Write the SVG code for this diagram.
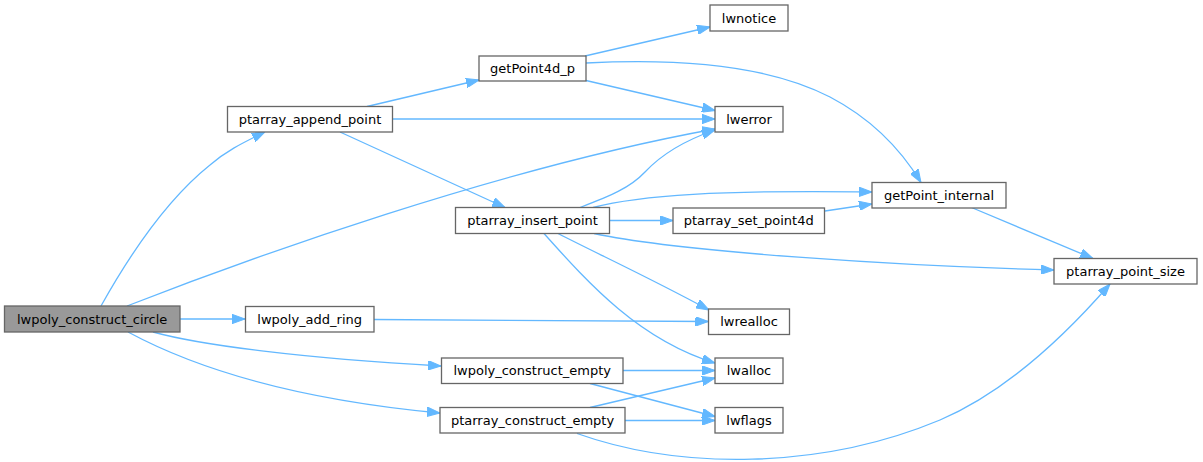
<svg xmlns="http://www.w3.org/2000/svg" width="1203" height="462" viewBox="0 0 1203 462">
<style>
.node rect{fill:#ffffff;stroke:#666666;stroke-width:1.3}
.node.root rect{fill:#999999}
.node text{font-family:"DejaVu Sans","Liberation Sans",sans-serif;font-size:13px;fill:#000000;text-anchor:middle}
.edges path{fill:none;stroke:#63b8ff;stroke-width:1.3;marker-end:url(#arr)}
</style>
<defs>
<marker id="arr" markerUnits="userSpaceOnUse" viewBox="0 0 13 9.4" refX="13" refY="4.7" markerWidth="13" markerHeight="9.4" orient="auto">
<path d="M0,0 L13,4.7 L0,9.4 z" fill="#63b8ff" stroke="#63b8ff" stroke-width="1"/>
</marker>
</defs>
<rect width="1203" height="462" fill="#ffffff"/>
<g class="edges">
<path d="M101,306 C120,272 160,205 210,165 C225,152 240,144 265,132"/>
<path d="M127,306 C250,258 500,168 715,129"/>
<path d="M180,319 L245,319"/>
<path d="M153,332 C200,345 300,358 441,366"/>
<path d="M128,332 C180,360 270,397 440,413"/>
<path d="M367,106.5 L479,80"/>
<path d="M392.5,119 L715,119"/>
<path d="M340,132 L505,207.5"/>
<path d="M585,56 L710,27"/>
<path d="M586,63 C680,58 770,66 830,97 C870,118 900,148 921,182.5"/>
<path d="M586,80.5 L715,110.5"/>
<path d="M580,207.5 C610,196 630,188 645,172 C660,156 680,142 715,130"/>
<path d="M593,207.5 C640,195 720,190 872,192"/>
<path d="M609.5,220.5 L673,220.5"/>
<path d="M594,233.5 C680,252 900,266 1054,270"/>
<path d="M558,233.5 C600,255 650,278 709,310"/>
<path d="M544,233.5 C590,285 640,340 715,363"/>
<path d="M971.5,207.5 L1093,258.5"/>
<path d="M825,211 L872,204"/>
<path d="M374,319.5 L708.5,321.5"/>
<path d="M623,370.5 L715,370.5"/>
<path d="M590,383.5 L715,416.5"/>
<path d="M590,407.5 L715,378"/>
<path d="M625,420.5 L715,420.5"/>
<path d="M577,433.5 C680,470 820,470 940,420 C1010,390 1070,330 1110,284"/>
</g>
<g id="node_lwpoly_construct_circle" class="node root"><rect x="4.5" y="306" width="175.5" height="26"/><text x="92.2" y="323.5">lwpoly_construct_circle</text></g>
<g id="node_ptarray_append_point" class="node"><rect x="227.5" y="106.5" width="165" height="25.5"/><text x="310" y="123.8">ptarray_append_point</text></g>
<g id="node_getPoint4d_p" class="node"><rect x="479" y="56" width="107" height="25"/><text x="532.5" y="73">getPoint4d_p</text></g>
<g id="node_lwnotice" class="node"><rect x="710" y="5" width="78" height="26"/><text x="749" y="22.5">lwnotice</text></g>
<g id="node_lwerror" class="node"><rect x="715" y="106.5" width="68" height="25.5"/><text x="749" y="123.8">lwerror</text></g>
<g id="node_ptarray_insert_point" class="node"><rect x="455.5" y="207.5" width="154" height="26"/><text x="532.5" y="225">ptarray_insert_point</text></g>
<g id="node_getPoint_internal" class="node"><rect x="872" y="182.5" width="134" height="25.5"/><text x="939" y="199.8">getPoint_internal</text></g>
<g id="node_ptarray_set_point4d" class="node"><rect x="673" y="208" width="151.5" height="25.5"/><text x="748.7" y="225.3">ptarray_set_point4d</text></g>
<g id="node_ptarray_point_size" class="node"><rect x="1054" y="258.5" width="143" height="25.5"/><text x="1125.5" y="275.8">ptarray_point_size</text></g>
<g id="node_lwpoly_add_ring" class="node"><rect x="245.5" y="306.5" width="128.5" height="25.5"/><text x="309.7" y="323.8">lwpoly_add_ring</text></g>
<g id="node_lwrealloc" class="node"><rect x="708.5" y="309" width="81" height="25.5"/><text x="749" y="326.3">lwrealloc</text></g>
<g id="node_lwpoly_construct_empty" class="node"><rect x="441.5" y="358" width="181.5" height="25.5"/><text x="532.2" y="375.3">lwpoly_construct_empty</text></g>
<g id="node_lwalloc" class="node"><rect x="715" y="358" width="68" height="25.5"/><text x="749" y="375.3">lwalloc</text></g>
<g id="node_ptarray_construct_empty" class="node"><rect x="440" y="407.5" width="185" height="25.5"/><text x="532.5" y="424.8">ptarray_construct_empty</text></g>
<g id="node_lwflags" class="node"><rect x="715" y="407.5" width="68" height="25.5"/><text x="749" y="424.8">lwflags</text></g>
</svg>
